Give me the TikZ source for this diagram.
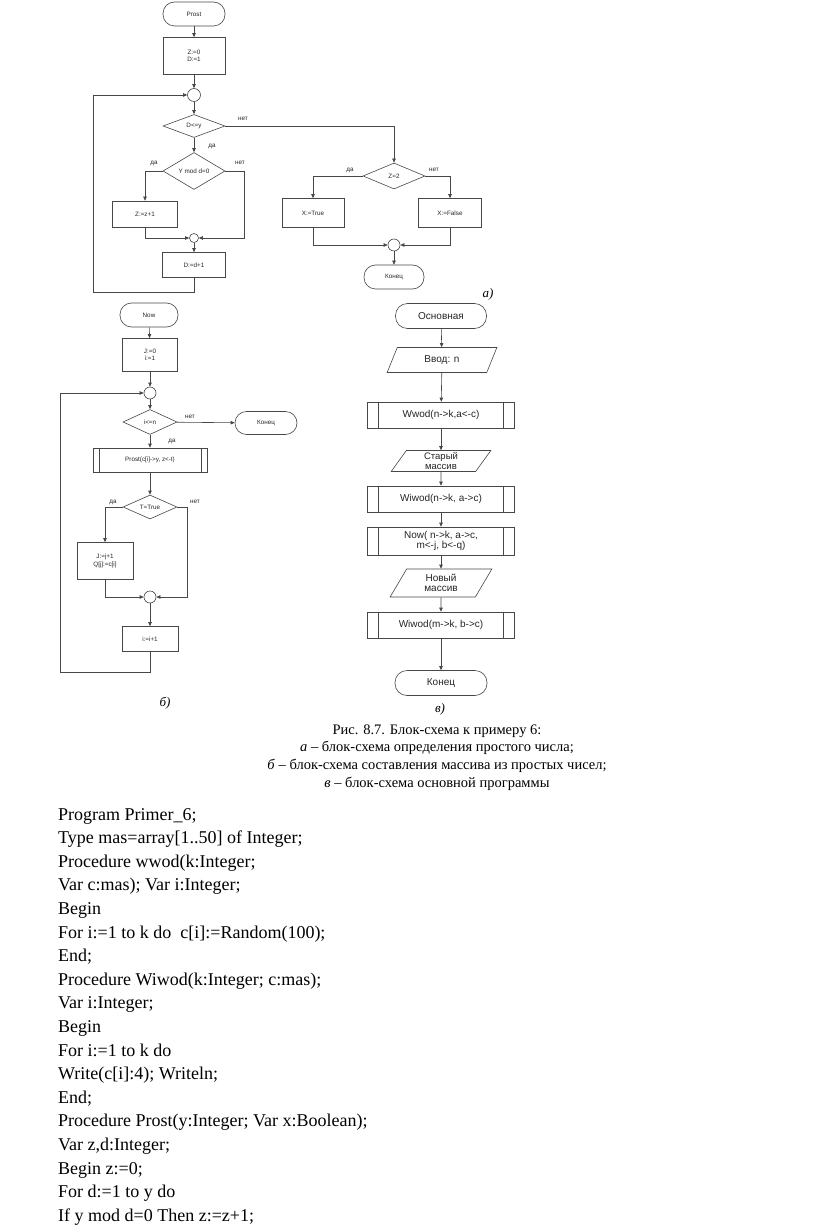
\documentclass[tikz,border=0pt]{standalone}
\usepackage{fontspec}
\setmainfont{Liberation Serif}
\newfontfamily\dsans{Liberation Sans}
\usetikzlibrary{shapes.geometric,arrows.meta}
\tikzset{
  ln/.style={draw=black!72, line width=0.6pt},
  arr/.style={ln, -{Triangle[length=4pt,width=3.4pt]}},
  fa/.style={font=\dsans\fontsize{6.3}{7.4}\selectfont, text=black!85},
  fc/.style={font=\dsans\fontsize{10}{10.5}\selectfont, text=black!85},
  term/.style={ln, rectangle, rounded corners=11.5pt, minimum height=24pt, inner sep=0pt, align=center},
  proc/.style={ln, rectangle, inner sep=0pt, align=center},
  dec/.style={ln, diamond, aspect=2.5, inner sep=0pt, align=center},
  junc/.style={ln, circle, inner sep=0pt},
  iobox/.style={ln, trapezium, trapezium left angle=66, trapezium right angle=114, trapezium stretches=true, inner sep=0pt, align=center},
  subr/.style={proc, path picture={\draw[black!72, line width=0.6pt]
     ([xshift=#1]path picture bounding box.north west) -- ([xshift=#1]path picture bounding box.south west)
     ([xshift=-#1]path picture bounding box.north east) -- ([xshift=-#1]path picture bounding box.south east);}},
  lbl/.style={fa, inner sep=0pt},
  code/.style={anchor=base west, inner sep=0pt, font=\fontsize{18}{23.6}\selectfont},
  capt/.style={anchor=base, inner sep=0pt, font=\fontsize{14.5}{17.7}\selectfont},
  tag/.style={inner sep=0pt, font=\itshape\fontsize{13}{14}\selectfont}
}
\begin{document}
\begin{tikzpicture}[x=1pt,y=-1pt]
\useasboundingbox[fill=white] (0,0) rectangle (816,1230);

% ---------- diagram a ----------
\node[term, fa, minimum width=62pt] (pst) at (194,14) {Prost};
\node[proc, fa, minimum width=62pt, minimum height=37pt] (ini) at (194,56) {Z:=0\\D:=1};
\node[junc, minimum size=13pt] (c1) at (194,95) {};
\node[dec, fa, minimum width=62pt, minimum height=23pt] (d1) at (194,126) {D<=y};
\node[dec, fa, minimum width=62pt, minimum height=37pt] (d2) at (194,171) {Y mod d=0};
\node[proc, fa, minimum width=65pt, minimum height=26pt] (z1) at (145,214) {Z:=z+1};
\node[junc, minimum size=9pt] (c2) at (194,238) {};
\node[proc, fa, minimum width=63pt, minimum height=25pt] (dd) at (194,265) {D:=d+1};
\coordinate (ra) at (244,171);
\coordinate (lb) at (194,292);
\coordinate (lt) at (93,95);

\node[dec, fa, minimum width=62pt, minimum height=26pt] (z2) at (394,176) {Z=2};
\node[proc, fa, minimum width=62pt, minimum height=29pt] (xt) at (313,213) {X:=True};
\node[proc, fa, minimum width=63pt, minimum height=29pt] (xf) at (450,213) {X:=False};
\node[junc, minimum size=12pt] (c5) at (394,245) {};
\node[term, fa, minimum width=60pt] (en1) at (394,277) {Конец};

\draw[arr] (pst) -- (ini);
\draw[arr] (ini) -- (c1);
\draw[arr] (c1) -- (d1);
\draw[arr] (d1) -- (d2);
\draw[arr] (d2.west) -| (z1.north);
\draw[arr] (d2.east) -- (ra) |- (c2.east);
\draw[arr] (z1.south) |- (c2.west);
\draw[arr] (c2) -- (dd);
\draw[arr] (dd.south) -- (lb) -| (lt) -- (c1.west);
\draw[arr] (d1.east) -| (z2.north);
\draw[arr] (z2.west) -| (xt.north);
\draw[arr] (z2.east) -| (xf.north);
\draw[arr] (xt.south) |- (c5.west);
\draw[arr] (xf.south) |- (c5.east);
\draw[arr] (c5) -- (en1);

\node[lbl] (la1) at (243,119) {нет};
\node[lbl] (la2) at (212,146) {да};
\node[lbl] (la3) at (154,163) {да};
\node[lbl] (la4) at (240,163) {нет};
\node[lbl] (la5) at (350,170) {да};
\node[lbl] (la6) at (434,170) {нет};
\node[tag] (ta) at (488,294) {а)};

% ---------- diagram b ----------
\node[term, fa, minimum width=58pt] (nw) at (149,315) {Now};
\node[proc, fa, minimum width=55pt, minimum height=33pt] (ini2) at (150,355) {J:=0\\i:=1};
\node[junc, minimum size=12pt] (c3) at (150,393) {};
\node[dec, fa, minimum width=54pt, minimum height=25pt] (d3) at (150,422) {i<=n};
\node[term, fa, minimum width=62pt, minimum height=23pt] (en2) at (266,423) {Конец};
\node[subr=6pt, fa, minimum width=114pt, minimum height=24pt] (sb1) at (150,460) {Prost(c[i]->y, z<-t)};
\node[dec, fa, minimum width=54pt, minimum height=24pt] (d4) at (150,507) {T=True};
\node[proc, fa, minimum width=56pt, minimum height=37pt] (jj) at (105,561) {J:=j+1\\Q[j]:=c[i]};
\node[junc, minimum size=12pt] (c4) at (150,597) {};
\node[proc, fa, minimum width=56pt, minimum height=25pt] (ii) at (150,639) {i:=i+1};
\coordinate (rb) at (187,507);
\coordinate (bb) at (150,672);
\coordinate (bt) at (60,393);

\draw[arr] (nw) -- (ini2);
\draw[arr] (ini2) -- (c3);
\draw[arr] (c3) -- (d3);
\draw[arr] (d3) -- (en2);
\draw[arr] (d3) -- (sb1);
\draw[arr] (sb1) -- (d4);
\draw[arr] (d4.west) -| (jj.north);
\draw[arr] (d4.east) -- (rb) |- (c4.east);
\draw[arr] (jj.south) |- (c4.west);
\draw[arr] (c4) -- (ii);
\draw[arr] (ii.south) -- (bb) -| (bt) -- (c3.west);

\node[lbl] (lb1) at (190,417) {нет};
\node[lbl] (lb2) at (172,441) {да};
\node[lbl] (lb3) at (113,502) {да};
\node[lbl] (lb4) at (195,502) {нет};
\node[tag] (tb) at (165,703) {б)};

% ---------- diagram c ----------
\node[term, fc, minimum width=91pt, minimum height=25pt, rounded corners=12pt] (mn) at (441,316) {Основная};
\node[iobox, fc, minimum width=110pt, minimum height=25pt] (io1) at (442,360) {Ввод: n};
\node[subr=11pt, fc, minimum width=147pt, minimum height=26pt] (s1) at (441,415) {Wwod(n->k,a<-c)};
\node[iobox, fc, minimum width=100pt, minimum height=21pt, font=\dsans\fontsize{9.5}{9.5}\selectfont] (io2) at (441,461) {Старый\\массив};
\node[subr=11pt, fc, minimum width=147pt, minimum height=26pt] (s2) at (441,499) {Wiwod(n->k, a->c)};
\node[subr=11pt, fc, minimum width=147pt, minimum height=28pt] (s3) at (441,541) {Now( n->k, a->c,\\m<-j, b<-q)};
\node[iobox, fc, minimum width=102pt, minimum height=28pt] (io3) at (441,583) {Новый\\массив};
\node[subr=11pt, fc, minimum width=147pt, minimum height=26pt] (s4) at (441,625) {Wiwod(m->k, b->c)};
\node[term, fc, minimum width=92pt, minimum height=25pt, rounded corners=12pt] (en3) at (441,683) {Конец};

\draw[arr] (mn) -- (io1);
\draw[arr] (io1) -- (s1);
\draw[arr] (s1) -- (io2);
\draw[arr] (io2) -- (s2);
\draw[arr] (s2) -- (s3);
\draw[arr] (s3) -- (io3);
\draw[arr] (io3) -- (s4);
\draw[arr] (s4) -- (en3);
\node[tag] (tc) at (440,709) {в)};

% ---------- caption ----------
\node[capt] (cp1) at (437,734) {Рис. 8.7. Блок-схема к примеру 6:};
\node[capt] (cp2) at (437,751.5) {\textit{а} – блок-схема определения простого числа;};
\node[capt] (cp3) at (437,769) {\textit{б} – блок-схема составления массива из простых чисел;};
\node[capt] (cp4) at (437,787) {\textit{в} – блок-схема основной программы};

% ---------- code ----------
\node[code] (k1) at (58,820) {Program Primer\_6;};
\node[code] (k2) at (58,843.6) {Type mas=array[1..50] of Integer;};
\node[code] (k3) at (58,867.2) {Procedure wwod(k:Integer;};
\node[code] (k4) at (58,890.8) {Var c:mas); Var i:Integer;};
\node[code] (k5) at (58,914.4) {Begin};
\node[code] (k6) at (58,938.0) {For i:=1 to k do\ \ c[i]:=Random(100);};
\node[code] (k7) at (58,961.6) {End;};
\node[code] (k8) at (58,985.2) {Procedure Wiwod(k:Integer; c:mas);};
\node[code] (k9) at (58,1008.8) {Var i:Integer;};
\node[code] (k10) at (58,1032.4) {Begin};
\node[code] (k11) at (58,1056.0) {For i:=1 to k do};
\node[code] (k12) at (58,1079.6) {Write(c[i]:4); Writeln;};
\node[code] (k13) at (58,1103.2) {End;};
\node[code] (k14) at (58,1126.8) {Procedure Prost(y:Integer; Var x:Boolean);};
\node[code] (k15) at (58,1150.4) {Var z,d:Integer;};
\node[code] (k16) at (58,1174.0) {Begin z:=0;};
\node[code] (k17) at (58,1197.6) {For d:=1 to y do};
\node[code] (k18) at (58,1221.2) {If y mod d=0 Then z:=z+1;};
\end{tikzpicture}
\end{document}
